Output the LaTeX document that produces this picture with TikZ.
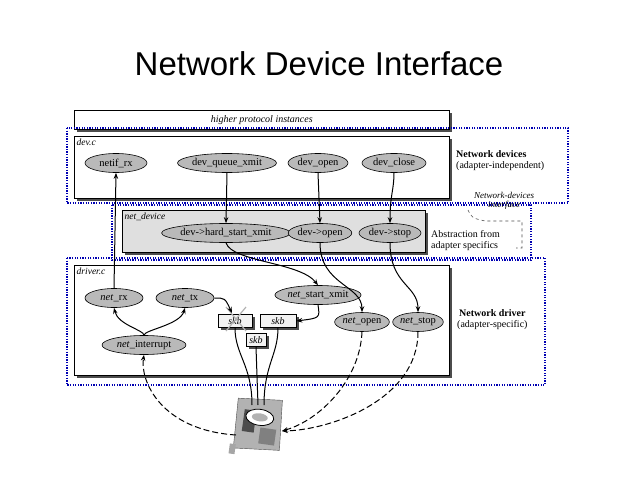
\documentclass[tikz,border=0pt]{standalone}
\usepackage{fontspec}
\setmainfont{Liberation Serif}
\newfontfamily\titlesans{Liberation Sans}
\usetikzlibrary{shapes.geometric,arrows.meta,shadows}
\begin{document}
\begin{tikzpicture}[x=1pt,y=-1pt,
  ell/.style={ellipse,draw,semithick,fill=gray!55,inner sep=0pt,minimum height=19,font=\fontsize{10.5}{11}\selectfont},
  box/.style={draw,semithick,fill=white,drop shadow={shadow xshift=2.5pt,shadow yshift=-2.5pt,fill=black!70,opacity=1}},
  dots/.style={draw=blue!70!black,line width=1.8pt,dash pattern=on 1.3pt off 1.3pt},
  arr/.style={-{Stealth[length=6pt]},line width=1pt},
  darr/.style={-{Stealth[length=6pt]},line width=1pt,dash pattern=on 6pt off 3pt},
  lbl/.style={font=\fontsize{9.5}{10}\selectfont\itshape,anchor=north west,inner sep=1.5pt},
  side/.style={font=\fontsize{10}{11}\selectfont,align=left,anchor=west,inner sep=0pt}]
\useasboundingbox (0,0) rectangle (638,479);
\node[font=\titlesans\fontsize{33}{36}\selectfont] (title) at (319,64) {Network Device Interface};
% boxes
\node[box,minimum width=375,minimum height=19,anchor=north west,inner sep=0pt,font=\fontsize{10}{10}\selectfont\itshape] (hp) at (74,110) {higher protocol instances};
\draw[box] (74,136) rectangle (449,198);
\node[lbl] (devc) at (75,137) {dev.c};
\draw[box,fill=gray!25] (122,210) rectangle (425,252);
\node[lbl] (nd) at (123,211) {net\_device};
\draw[box] (74,265) rectangle (449,375);
\node[lbl] (drv) at (75,266) {driver.c};
% dotted regions
\draw[dots] (67,128) rectangle (568,203);
\draw[dots] (112,205) rectangle (531,260);
\draw[dots] (67,258) rectangle (545,385);
% side labels
\node[side] (nd1) at (456,161) {\textbf{Network devices}\\(adapter-independent)};
\node[side,font=\fontsize{9}{9.5}\selectfont\itshape,align=center] (ndi) at (474,201) {Network-devices\\interface};
\node[side] (abs) at (431,241) {Abstraction from\\adapter specifics};
\node[side,align=center] (ndr) at (457,320) {\textbf{Network driver}\\(adapter-specific)};
\draw[dashed,gray!60!black,semithick] (468,210) .. controls (472,218) .. (485,221) -- (522,221) -- (522,248) -- (516,248);
% ellipses
\node[ell,minimum width=62] (netifrx) at (116,163) {netif\_rx};
\node[ell,minimum width=96] (dqx) at (227,163) {dev\_queue\_xmit};
\node[ell,minimum width=60] (dopen) at (318,163) {dev\_open};
\node[ell,minimum width=64] (dclose) at (394,163) {dev\_close};
\node[ell,minimum width=114] (dhsx) at (226,233) {dev->hard\_start\_xmit};
\node[ell,minimum width=60] (ddopen) at (320,233) {dev->open};
\node[ell,minimum width=62] (ddstop) at (390,233) {dev->stop};
\node[ell,minimum width=58] (netrx) at (114,298) {\textit{net}\_rx};
\node[ell,minimum width=58] (nettx) at (185,298) {\textit{net}\_tx};
\node[ell,minimum width=84] (nsx) at (318,295) {\textit{net}\_start\_xmit};
\node[ell,minimum width=84] (nint) at (144,345) {\textit{net}\_interrupt};
\node[ell,minimum width=50] (nopen) at (362,322) {\textit{net}\_open};
\node[ell,minimum width=50] (nstop) at (418,322) {\textit{net}\_stop};
% skb
\tikzset{skb/.style={box,fill=gray!10,inner sep=1pt,minimum height=13,font=\fontsize{10}{10}\selectfont\itshape}}
\node[skb,minimum width=34] (skb1) at (235,321) {skb};
\node[skb,minimum width=36] (skb2) at (278,321) {skb};
\node[skb,minimum width=20] (skb3) at (256,340) {skb};
\draw[gray!60,line width=1.2pt] (226,307) -- (246,331) (246,307) -- (226,331);
% card
\begin{scope}[shift={(257,423)},rotate=-8]
\fill[gray!60] (-22,-22) -- (22,-26) -- (26,24) -- (-20,28) -- cycle;
\draw[black!70] (-22,-22) -- (22,-26) -- (26,24) -- (-20,28) -- cycle;
\fill[black!70] (-14,-12) rectangle (-2,10);
\fill[black!50] (4,4) rectangle (20,20);
\draw[thick,fill=white] (2,-6) ellipse (14 and 8);
\fill[gray!60] (2,-6) ellipse (8 and 4);
\fill[gray!70] (-24,24) rectangle (-18,34);
\end{scope}
\coordinate (cardL) at (236,435);
\coordinate (cardR) at (282,431);
% arrows
\draw[arr] (netrx.north) -- (netifrx.south);
\draw[arr] (dqx.south) -- (dhsx.north);
\draw[arr] (dopen.south) -- (ddopen.north);
\draw[arr] (dclose.south) .. controls (394,190) and (390,195) .. (ddstop.north);
\draw[arr] (dhsx.south) .. controls (232,262) and (300,262) .. (nsx.north);
\draw[arr] (ddopen.south) .. controls (320,285) and (362,285) .. (nopen.north);
\draw[arr] (ddstop.south) .. controls (390,285) and (418,285) .. (nstop.north);
\draw[arr] (nint.north) .. controls (144,330) and (118,325) .. (netrx.south);
\draw[arr] (nint.north) .. controls (144,330) and (180,325) .. (nettx.south);
\draw[arr] (nettx.east) .. controls (225,298) .. (232,313);
\draw[arr] (nsx.south) .. controls (320,318) .. (skb2.east);
\draw[line width=1pt] (skb1.south) .. controls (235,355) and (252,365) .. (252,405);
\draw[line width=1pt] (skb3.south) -- (258,405);
\draw[line width=1pt] (skb2.south) .. controls (278,355) and (264,365) .. (264,405);
\draw[darr] (cardL) .. controls (160,430) and (140,380) .. (nint.south);
\draw[darr] (nopen.south) .. controls (360,380) and (320,420) .. (cardR);
\draw[darr] (nstop.south) .. controls (418,400) and (330,430) .. (cardR);
\end{tikzpicture}
\end{document}
